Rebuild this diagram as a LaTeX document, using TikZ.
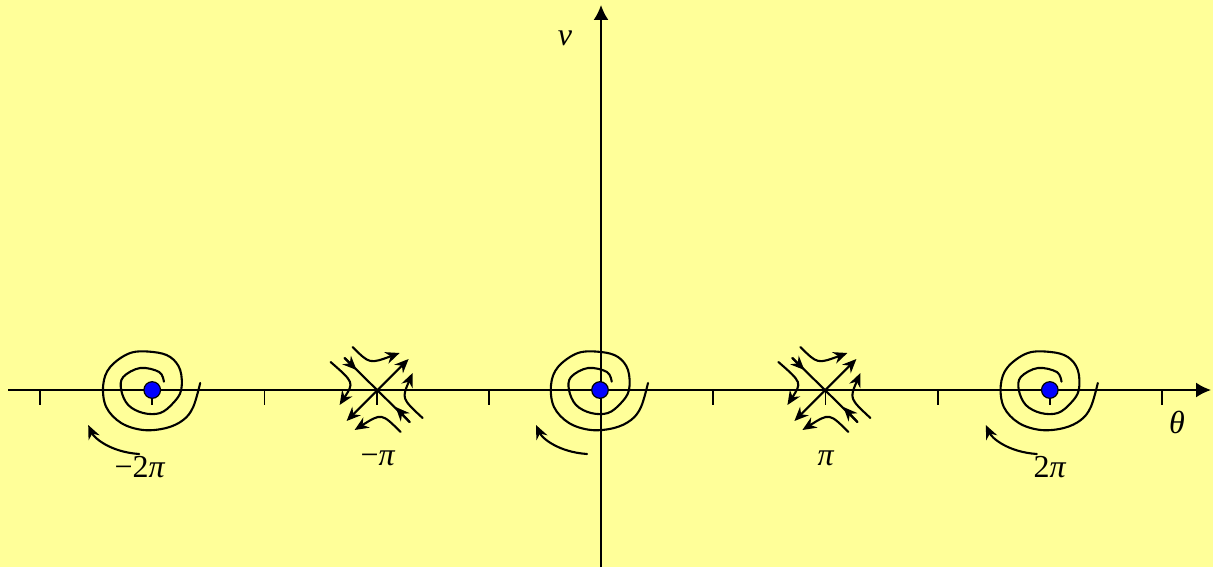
\documentclass[tikz,border=0pt]{standalone}
\usepackage{fontspec}
\setmainfont{Liberation Serif}
\usetikzlibrary{arrows.meta}
\definecolor{bg}{RGB}{255,255,153}
\definecolor{dotblue}{RGB}{0,0,255}
\begin{document}
\begin{tikzpicture}[x=0.5pt,y=-0.5pt,
  curve/.style={line width=1.05pt, line cap=round},
  axisline/.style={line width=0.9pt, -{Latex[length=7.5pt,width=7.5pt]}},
  flow/.style={curve, -{Stealth[length=7pt,width=6pt]}},
  ticky/.style={line width=0.9pt},
  eqdot/.style={circle, fill=dotblue, draw=black, line width=0.6pt, minimum size=8.3pt, inner sep=0pt},
  lab/.style={font=\fontsize{16}{18}\selectfont, inner sep=0pt},
  focuspic/.pic={
    \draw[curve] plot[smooth, tension=0.6] coordinates {(11.7,-8.3) (7,-18) (-12,-22) (-29,-13) (-31,0) (-24,15) (-9,23) (8,23) (21,13) (29,0) (28,-20) (18,-33) (1,-38) (-22,-37) (-42,-23) (-49,-5) (-46,17) (-31,33) (-9,40) (14,38) (31,30) (41,17) (48,-7)};
    \draw[flow] (-13,64) .. controls (-42,62) and (-58,48) .. (-64,35);
  },
  saddlepic/.pic={
    \draw[curve, {Stealth[length=7pt,width=6pt]}-{Stealth[length=7pt,width=6pt]}] (-31,31) -- (31,-31);
    \draw[curve] (-33,-32) -- (32,32);
    \draw[flow] (-33,-32) -- (-21,-20);
    \draw[flow] (32,32) -- (18,17);
    \draw[flow] (-25,-43) .. controls (-8,-26) .. (22,-37);
    \draw[flow] (-47,-28) .. controls (-23.5,-7.5) .. (-38,15);
    \draw[flow] (23,42) .. controls (4,23) .. (-23,40);
    \draw[flow] (45,28) .. controls (24,8.5) .. (35,-17);
  }]
\fill[bg] (0,0) rectangle (1213,567);
\useasboundingbox (0,0) rectangle (1213,567);
% axes
\coordinate (xs) at (8,390);
\coordinate (xe) at (1211,390);
\coordinate (ys) at (601,567);
\coordinate (ye) at (601,5);
\draw[axisline] (xs) -- (xe);
\draw[axisline] (ys) -- (ye);
% ticks
\foreach \k in {-5,-4,-3,-2,-1,1,2,3,4,5}
  \draw[ticky] (601+112.2*\k,390) -- ++(0,15);
% equilibria
\coordinate (em2) at (152.2,390);
\coordinate (em1) at (377.6,390);
\coordinate (e0) at (600,390);
\coordinate (ep1) at (825.4,390);
\coordinate (ep2) at (1049.8,390);
\pic at (em2) {focuspic};
\pic at (e0) {focuspic};
\pic at (ep2) {focuspic};
\pic at (em1) {saddlepic};
\pic at (ep1) {saddlepic};
\node[eqdot] (d1) at (em2) {};
\node[eqdot] (d2) at (e0) {};
\node[eqdot] (d3) at (ep2) {};
% labels
\node[lab] (l1) at (140,467) {−2\textit{π}};
\node[lab] (l2) at (378,458) {−\textit{π}};
\node[lab] (l3) at (826,458) {\textit{π}};
\node[lab] (l4) at (1050,467) {2\textit{π}};
\node[lab] (lt) at (1177,422) {\textit{θ}};
\node[lab] (lv) at (565,38) {\textit{v}};
\end{tikzpicture}
\end{document}
